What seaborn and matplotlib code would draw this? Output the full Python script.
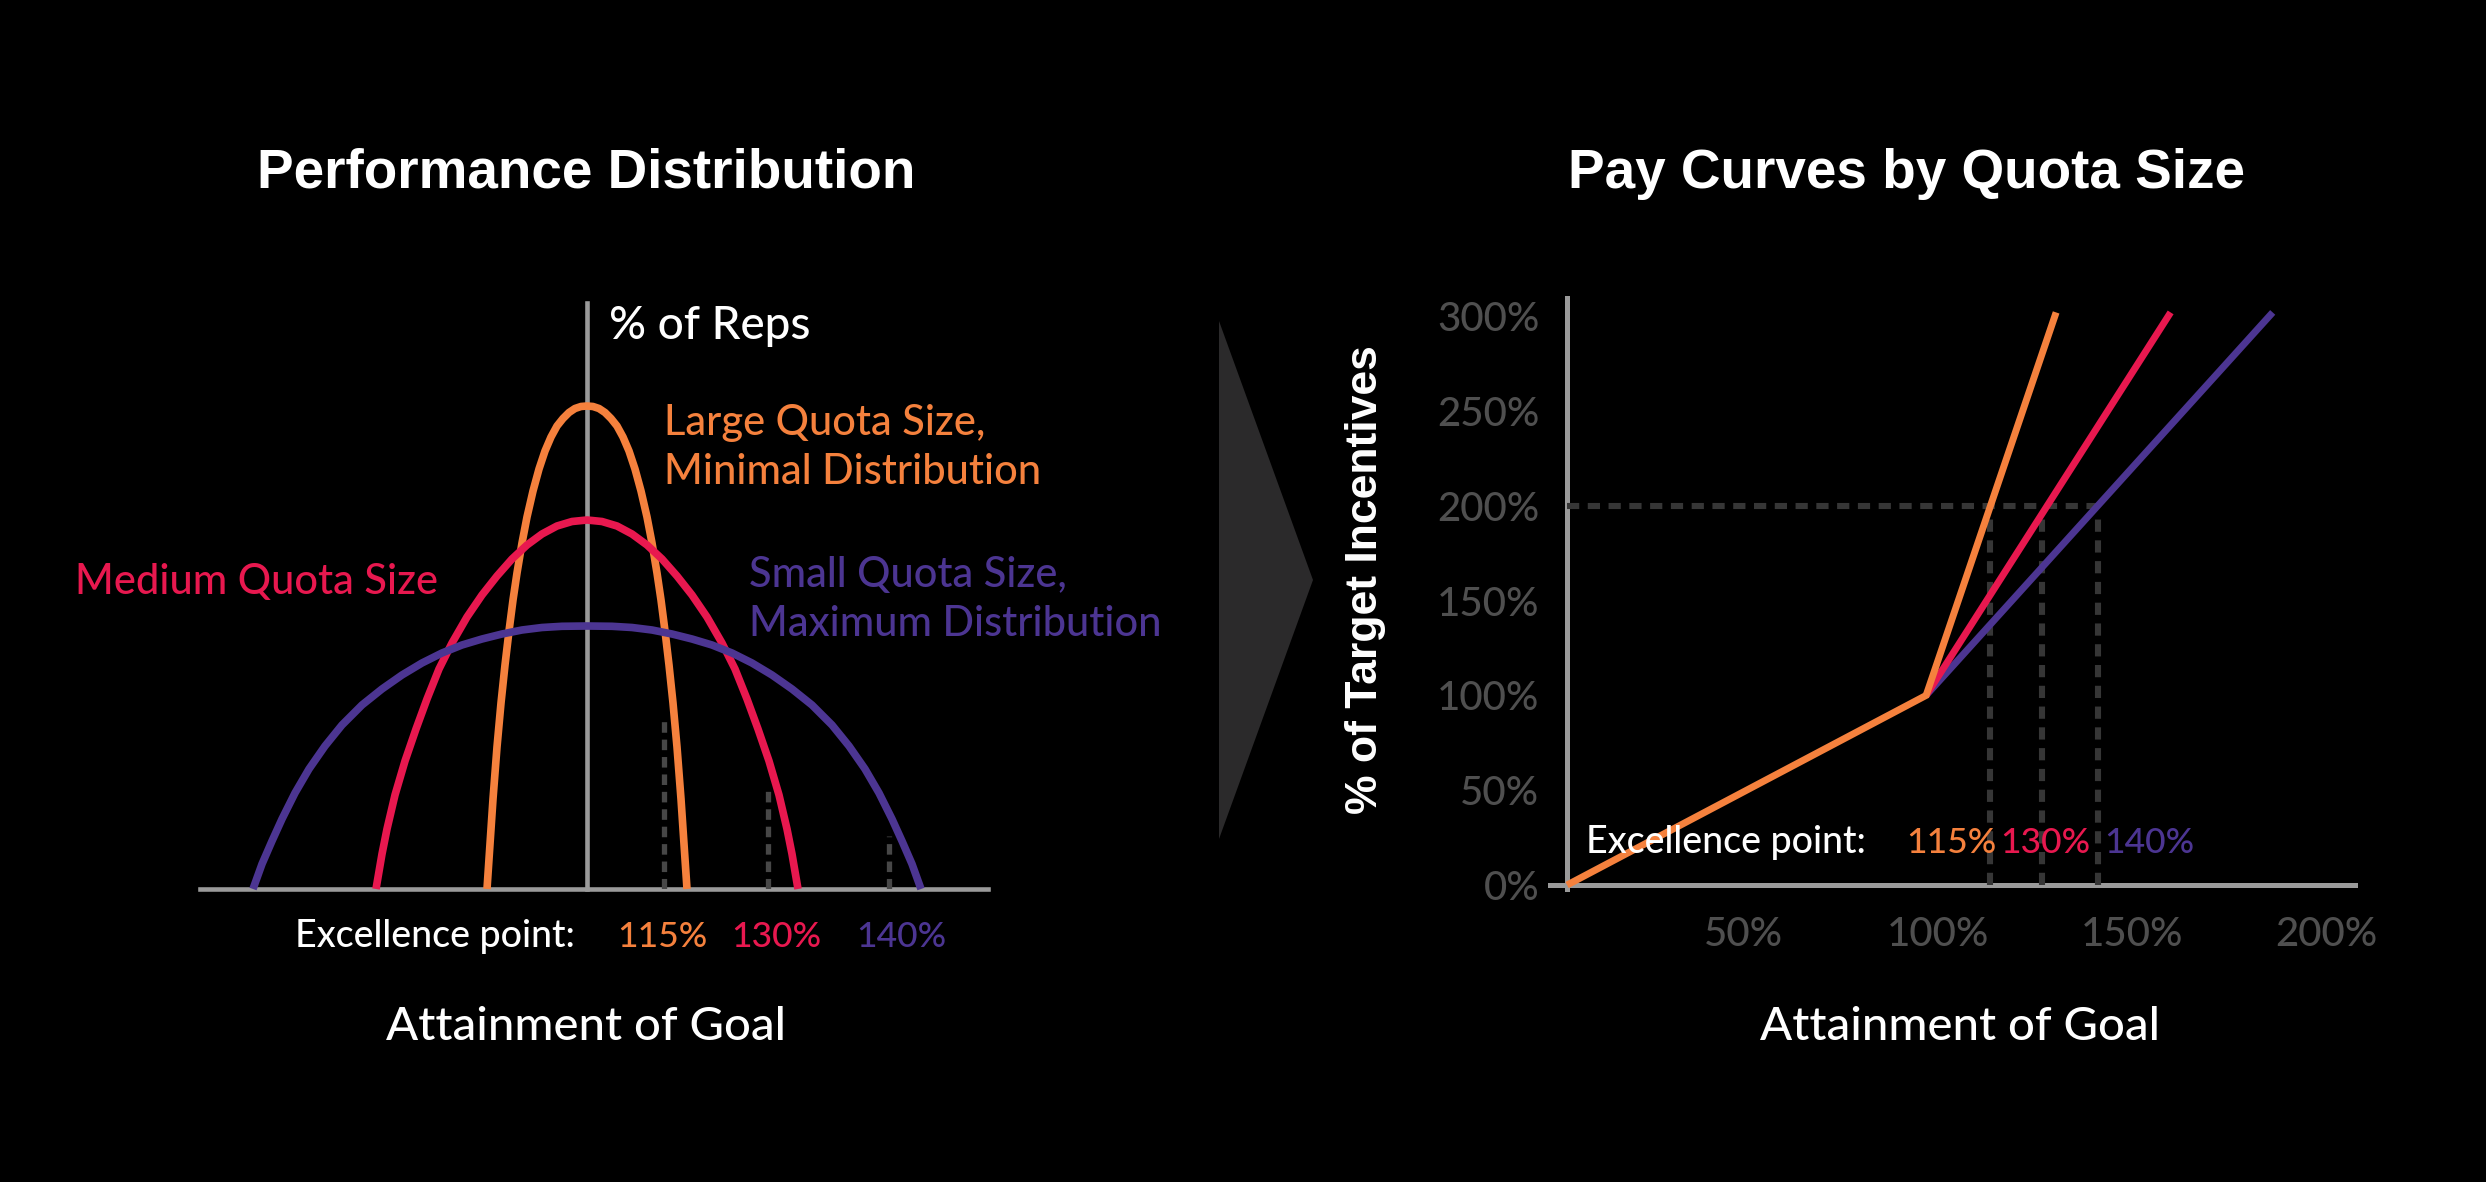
import matplotlib
matplotlib.use("Agg")
import matplotlib.pyplot as plt
import matplotlib.transforms as mtransforms
from matplotlib.patches import Polygon
import pandas as pd
import seaborn as sns

# ---------------- data ----------------
# Left panel: performance distribution curves (offset from goal line, height above baseline)
large_half_dx = [0, 6, 12, 18, 24, 30, 36, 42, 48, 54, 60, 65, 70, 74, 78, 82, 86, 90, 94, 97, 100]
large_half_h = [483, 482.5, 480.5, 476.5, 470.5, 463, 452, 438, 420, 398, 372, 346, 316, 289, 258, 224, 186, 142, 90, 45, 0]
medium_half_dx = [0, 15, 30, 45, 60, 75, 90, 105, 120, 135, 148, 160, 171, 182, 192, 200, 205, 211]
medium_half_h = [369, 367.5, 363, 355, 344, 330, 313, 294, 272, 246, 220, 190, 160, 128, 94, 60, 35, 0]
small_half_dx = [0, 25, 45, 65, 85, 105, 125, 145, 165, 185, 205, 225, 245, 262, 278, 292, 305, 315, 325, 334]
small_half_h = [263, 262.7, 261.5, 259, 255, 250, 244, 236, 226, 214, 200, 184, 164, 143, 120, 96, 70, 48, 25, 0]

excel_dx = [77, 181, 302]
excel_h = [174, 101, 53]
excel_labels = ["115%", "130%", "140%"]

# Right panel: pay curves (attainment %, % of target incentives)
orange_x = [6.5, 99, 132.5]
orange_y = [0, 100, 302]
red_x = [99, 162]
red_y = [100, 302]
purple_x = [99, 188.3]
purple_y = [100, 302]
excel_attain = [115.4, 128.9, 143.4]
excel_top = [193, 193, 193]
payout_ref = 200
yticks = [0, 50, 100, 150, 200, 250, 300]
ytick_labels = ["0%", "50%", "100%", "150%", "200%", "250%", "300%"]
xticks = [50, 100, 150, 200]
xtick_labels = ["50%", "100%", "150%", "200%"]

ORANGE = "#F5813D"
RED = "#E8184F"
PURPLE = "#4C3592"
AXIS = "#9a9a9a"
TICKLAB = "#4f4f4f"
DASH = "#363636"
colors = [ORANGE, RED, PURPLE]

# ---------------- style ----------------
sns.set_theme(style="dark", rc={
    "figure.facecolor": "black", "axes.facecolor": "black",
    "savefig.facecolor": "black", "axes.grid": False,
})
plt.rcParams["font.family"] = ["Lato", "DejaVu Sans"]
plt.rcParams["font.weight"] = "medium"

W, H = 2486, 1182
fig = plt.figure(figsize=(W / 100, H / 100), dpi=100)


def fx(x):
    return x / W


def fy(y):
    return 1 - y / H


def mirror(dx, h):
    xs = [-v for v in reversed(dx)] + dx[1:]
    ys = list(reversed(h)) + h[1:]
    return xs, ys

# ---------------- left panel ----------------
axL = fig.add_axes([fx(200), fy(889), fx(988 - 200), (889 - 303) / H])
axL.set_xlim(-387, 401)
axL.set_ylim(0, 586)
curves = [(large_half_dx, large_half_h), (medium_half_dx, medium_half_h), (small_half_dx, small_half_h)]
for (dx, h), c in zip(curves, colors):
    xs, ys = mirror(dx, h)
    df = pd.DataFrame({"x": xs, "y": ys})
    sns.lineplot(data=df, x="x", y="y", ax=axL, color=c, lw=5.5, sort=False,
                 estimator=None, solid_capstyle="butt", clip_on=False)
for x, h in zip(excel_dx, excel_h):
    axL.plot([x, x], [0, h], color="#474747", lw=3.8, ls=(0, (2.0, 1.3)), zorder=1)
for s in ["top", "right"]:
    axL.spines[s].set_visible(False)
axL.spines["left"].set_position(("data", 0))
axL.spines["bottom"].set_position(("data", 0))
for s in ["left", "bottom"]:
    axL.spines[s].set_color(AXIS)
    axL.spines[s].set_linewidth(3.3)
    axL.spines[s].set_zorder(0.5)
axL.set_xticks([])
axL.set_yticks([])
axL.set_xlabel("")
axL.set_ylabel("")

# ---------------- right panel ----------------
axR = fig.add_axes([fx(1550), fy(889), fx(2355 - 1550), (889 - 298) / H])
axR.set_xlim(2.1, 209.5)
axR.set_ylim(-2.1, 309.6)
axR.plot([orange_x[0], max(excel_attain)], [payout_ref, payout_ref], color=DASH, lw=4.4,
         ls=(0, (2.0, 1.4)), zorder=1)
for x, t in zip(excel_attain, excel_top):
    axR.plot([x, x], [0, t], color=DASH, lw=4.4, ls=(0, (2.0, 1.4)), zorder=1)
for xs, ys, c in [(purple_x, purple_y, PURPLE), (red_x, red_y, RED), (orange_x, orange_y, ORANGE)]:
    df = pd.DataFrame({"x": xs, "y": ys})
    sns.lineplot(data=df, x="x", y="y", ax=axR, color=c, lw=5, estimator=None,
                 solid_capstyle="butt", solid_joinstyle="miter", clip_on=False)
for s in ["top", "right"]:
    axR.spines[s].set_visible(False)
axR.spines["left"].set_position(("data", orange_x[0]))
axR.spines["bottom"].set_position(("data", 0))
for s in ["left", "bottom"]:
    axR.spines[s].set_color(AXIS)
    axR.spines[s].set_linewidth(3.6)
    axR.spines[s].set_zorder(0.5)
axR.set_yticks(yticks)
axR.set_yticklabels(ytick_labels)
axR.set_xticks(xticks)
axR.set_xticklabels(xtick_labels)
axR.tick_params(axis="both", direction="out", length=11, width=3.4, color=AXIS,
                labelcolor=TICKLAB, labelsize=29)
axR.tick_params(axis="y", pad=9)
axR.tick_params(axis="x", pad=11)
for lab in axR.get_xticklabels():
    lab.set_transform(lab.get_transform() + mtransforms.ScaledTranslation(0.08, 0, fig.dpi_scale_trans))
axR.set_xlabel("")
axR.set_ylabel("")

# ---------------- chevron ----------------
fig.add_artist(Polygon([(fx(1219), fy(321)), (fx(1313), fy(580)), (fx(1219), fy(839))],
                       closed=True, transform=fig.transFigure, facecolor="#2b2a2b",
                       edgecolor="none"))

# ---------------- texts ----------------
TITLE_FONT = ["Liberation Sans", "DejaVu Sans"]
fig.text(fx(586.5), fy(188), "Performance Distribution", ha="center", va="baseline",
         color="white", fontsize=39.5, fontweight="bold", family=TITLE_FONT)
fig.text(fx(1907), fy(188), "Pay Curves by Quota Size", ha="center", va="baseline",
         color="white", fontsize=39.5, fontweight="bold", family=TITLE_FONT)
fig.text(fx(1366), fy(580), "% of Target Incentives", ha="center", va="center",
         rotation=90, color="white", fontsize=32, fontweight="bold", family=TITLE_FONT)

fig.text(fx(586), fy(1040), "Attainment of Goal", ha="center", va="baseline",
         color="white", fontsize=34)
fig.text(fx(1960), fy(1040), "Attainment of Goal", ha="center", va="baseline",
         color="white", fontsize=34)

fig.text(fx(609), fy(339), "% of Reps", ha="left", va="baseline", color="white", fontsize=33)
fig.text(fx(664), fy(435), "Large Quota Size,", ha="left", va="baseline", color=ORANGE, fontsize=30)
fig.text(fx(664), fy(484), "Minimal Distribution", ha="left", va="baseline", color=ORANGE, fontsize=30)
fig.text(fx(75), fy(594), "Medium Quota Size", ha="left", va="baseline", color=RED, fontsize=30)
fig.text(fx(749), fy(587), "Small Quota Size,", ha="left", va="baseline", color=PURPLE, fontsize=30)
fig.text(fx(749), fy(636), "Maximum Distribution", ha="left", va="baseline", color=PURPLE, fontsize=30)

# excellence point rows
fig.text(fx(295), fy(947), "Excellence point:", ha="left", va="baseline", color="white", fontsize=27)
for xp, lab, c in zip([617, 731, 856], excel_labels, colors):
    fig.text(fx(xp), fy(947), lab, ha="left", va="baseline", color=c, fontsize=25.5)
fig.text(fx(1586), fy(853), "Excellence point:", ha="left", va="baseline", color="white", fontsize=27)
for xp, lab, c in zip([1906, 2000, 2104], excel_labels, colors):
    fig.text(fx(xp), fy(853), lab, ha="left", va="baseline", color=c, fontsize=25.5)

fig.savefig("out.png", dpi=100, facecolor="black")
